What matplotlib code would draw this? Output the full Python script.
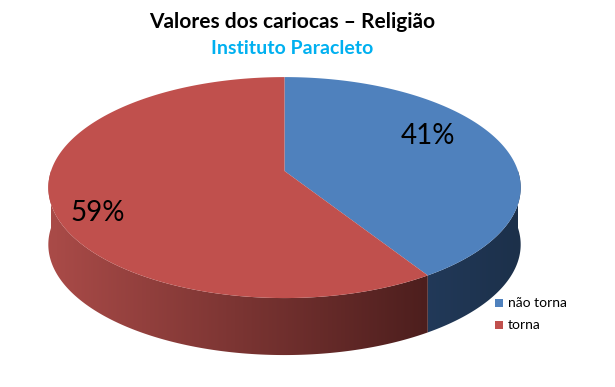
import matplotlib.pyplot as plt
from matplotlib.patches import Polygon
import numpy as np

categories = ['não torna', 'torna']
values = [41, 59]
colors_top = ['#4f81bd', '#c0504d']
title = 'Valores dos cariocas – Religião'
subtitle = 'Instituto Paracleto'

plt.rcParams['font.family'] = ['Lato', 'DejaVu Sans']

fig = plt.figure(figsize=(6.15, 3.87), dpi=100)
ax = fig.add_axes([0, 0, 1, 1])

# pie geometry (pixels), slight perspective like the excel 3d pie
cx, cy = 284.5, 171
rx, ry = 233.5, 108
k = 0.15
depth = 57

def pt(th, dz=0):
    t = np.radians(th)
    w = 1 + k*np.sin(t)
    return cx + rx*np.cos(t)/w, cy - ry*np.sin(t)/w + dz

# slice angles, clockwise from 12 o'clock
total = float(sum(values))
angles = []
a = 90.0
for v in values:
    b = a - 360.0*v/total
    angles.append((a, b))
    a = b

# horizontal shading of the side wall
xs = np.linspace(0, 615, 616)
def grad(c0, c1, x0, x1):
    f = np.clip((xs - x0)/(x1 - x0), 0, 1)[:, None]
    c = (np.array(c0) + (np.array(c1) - np.array(c0))*f)/255.0
    return c[None, :, :]
side_imgs = [grad([34, 58, 90], [28, 48, 74], 420, 520),
             grad([170, 75, 72], [76, 30, 29], 48, 430)]

# side wall (front half only)
for i, (a, b) in enumerate(angles):
    segs = []
    for off in (0, 360):
        lo, hi = max(b + off, -180), min(a + off, 0)
        if lo < hi:
            segs.append((lo, hi))
    for lo, hi in segs:
        ts = np.linspace(lo, hi, 200)
        p = [pt(t) for t in ts] + [pt(t, depth) for t in ts[::-1]]
        poly = Polygon(p, closed=True, facecolor='none', edgecolor='none')
        ax.add_patch(poly)
        im = ax.imshow(side_imgs[i], extent=(0, 615, 387, 0), aspect='auto',
                       interpolation='bilinear', zorder=1)
        im.set_clip_path(poly)

# top face
for i, (a, b) in enumerate(angles):
    ts = np.linspace(a, b, 300)
    p = [(cx, cy)] + [pt(t) for t in ts]
    ax.add_patch(Polygon(p, closed=True, facecolor=colors_top[i], edgecolor='none', zorder=2))

# percent labels
label_pos = [(428, 136), (98, 213)]
for v, (x, y) in zip(values, label_pos):
    ax.text(x, y, f'{v}%', fontsize=20, ha='center', va='center', color='black', zorder=3)

# titles
ax.text(292, 22, title, fontsize=15, fontweight='bold', ha='center', va='center', color='black')
ax.text(292, 48, subtitle, fontsize=14, fontweight='bold', ha='center', va='center', color='#00b0f0')

# legend
for j, (lab, col) in enumerate(zip(categories, colors_top)):
    y = 303 + 22*j
    ax.add_patch(Polygon([(495, y-4), (503, y-4), (503, y+4), (495, y+4)], closed=True,
                         facecolor=col, edgecolor='none', zorder=3))
    ax.text(508, y, lab, fontsize=10, ha='left', va='center', color='black')

ax.set_xlim(0, 615)
ax.set_ylim(387, 0)
ax.axis('off')

fig.savefig('out.png', dpi=100)
